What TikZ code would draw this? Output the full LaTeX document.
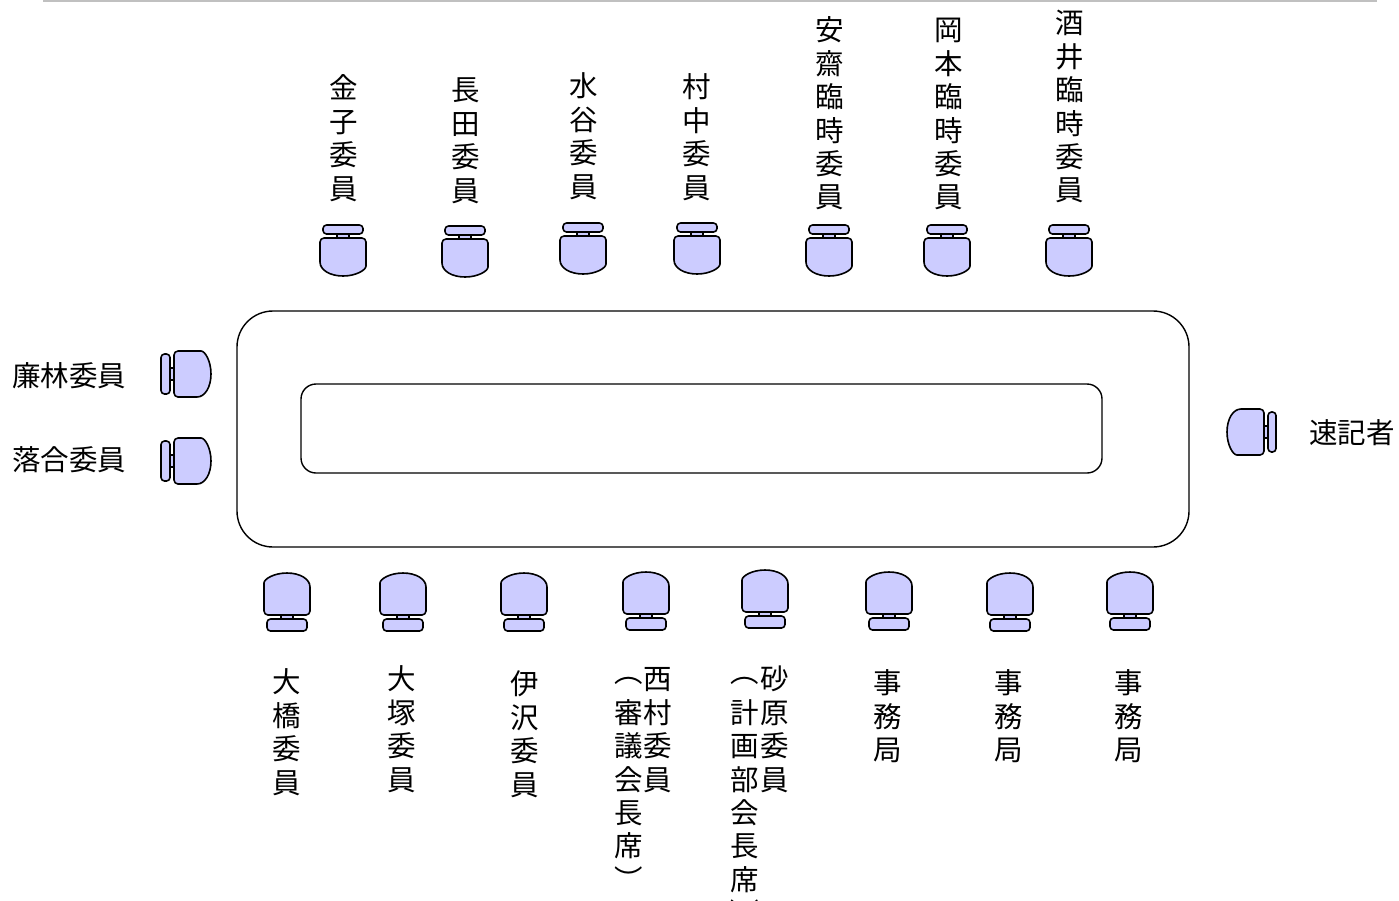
\documentclass[tikz,border=0pt]{standalone}
\usepackage{fontspec}
\setmainfont{Noto Sans CJK JP}
\definecolor{seatfill}{HTML}{CCCCFF}
\definecolor{rulegray}{HTML}{C0C0C0}
\tikzset{
  chairline/.style={draw=black, fill=seatfill, line width=1.6pt, line join=round},
  tbl/.style={draw=black, line width=1.4pt},
  cj/.style={inner sep=0pt, anchor=base, font=\fontsize{28.5}{34}\selectfont},
  pics/chair/.style 2 args={code={
    \pgfmathsetmacro\ct{-#1-4}
    \pgfmathsetmacro\cb{\ct-#2}
    \pgfmathsetmacro\cm{\cb+14}
    \pgfmathsetmacro\cc{\cb+6}
    \pgfmathsetmacro\ck{-#1+1}
    \pgfmathsetmacro\cj{\ct-1}
    \pgfmathsetmacro\cbk{-#1}
    \draw[chairline] (-6,\ck) rectangle (6,\cj);
    \draw[chairline, rounded corners=3.5] (-20,0) rectangle (20,\cbk);
    \draw[chairline] (0,\ct) [rounded corners=4] -- (23,\ct) -- (23,\cm) [sharp corners]
      .. controls (23,\cc) and (13,\cb) .. (0,\cb)
      .. controls (-13,\cb) and (-23,\cc) .. (-23,\cm) [rounded corners=4] -- (-23,\ct) -- cycle;
  }}
}
\newcommand\vcol[4]{%
  \foreach \c [count=\i] in {#4} {%
    \node[cj] (#1-\i) at (#2, {-(#3 + (\i-1)*33.4 + 10.8)}) {\c};
  }%
}
\begin{document}
\begin{tikzpicture}[x=1pt,y=1pt]
\useasboundingbox (0,0) rectangle (1399,-900);
% top rule
\coordinate (ruleL) at (43,-1);
\coordinate (ruleR) at (1377,-1);
\draw[rulegray, line width=2pt] (ruleL) -- (ruleR);
% table
\draw[tbl, rounded corners=36] (237,-311) rectangle (1189,-547);
\draw[tbl, rounded corners=15] (301,-384) rectangle (1102,-473);
% top chairs
\foreach \x/\y in {343/225, 465/226, 583/223, 697/223, 829/225, 947/225, 1069/225}
  \pic at (\x,-\y) {chair={9}{38}};
% bottom chairs
\foreach \x/\y in {287/631, 403/631, 524/631, 646/630, 765/628, 889/630, 1010/631, 1130/630}
  \pic[rotate=180] at (\x,-\y) {chair={12}{42}};
% side chairs
\pic[rotate=90] at (161,-374) {chair={9}{37}};
\pic[rotate=90] at (161,-461) {chair={9}{37}};
\pic[rotate=-90] at (1276,-432) {chair={8}{37}};
% top labels
\vcol{kaneko}{344}{88}{金,子,委,員}
\vcol{nagata}{466}{90}{長,田,委,員}
\vcol{mizutani}{584}{86}{水,谷,委,員}
\vcol{muranaka}{697}{87}{村,中,委,員}
\vcol{anzai}{830}{30}{安,齋,臨,時,委,員}
\vcol{okamoto}{949}{30}{岡,本,臨,時,委,員}
\vcol{sakai}{1070}{23}{酒,井,臨,時,委,員}
% bottom labels
\vcol{ohashi}{287}{682}{大,橋,委,員}
\vcol{otsuka}{402}{679}{大,塚,委,員}
\vcol{izawa}{525}{684}{伊,沢,委,員}
\vcol{nishimura}{658}{679}{西,村,委,員}
\node[cj] (shingikai-open) at (629,{-(679+10.8-7)}) {︵};
\vcol{shingikai}{629}{712.4}{審,議,会,長,席}
\node[cj] (shingikai-close) at (629,{-(879.4+10.8)}) {︶};
\vcol{sunahara}{775}{679}{砂,原,委,員}
\node[cj] (keikaku-open) at (745,{-(679+10.8-7)}) {︵};
\vcol{keikaku}{745}{712.4}{計,画,部,会,長,席}
\node[cj] (keikaku-close) at (745,{-(912.8+10.8)}) {︶};
\vcol{jimu1}{888}{683}{事,務,局}
\vcol{jimu2}{1009}{683}{事,務,局}
\vcol{jimu3}{1129}{683}{事,務,局}
% side labels
\node[cj, anchor=base west] (renbayashi) at (12,{-(376+10.8)}) {廉林委員};
\node[cj, anchor=base west] (ochiai) at (12,{-(460+10.8)}) {落合委員};
\node[cj, anchor=base west] (sokki) at (1309,{-(433+10.8)}) {速記者};
\end{tikzpicture}
\end{document}
